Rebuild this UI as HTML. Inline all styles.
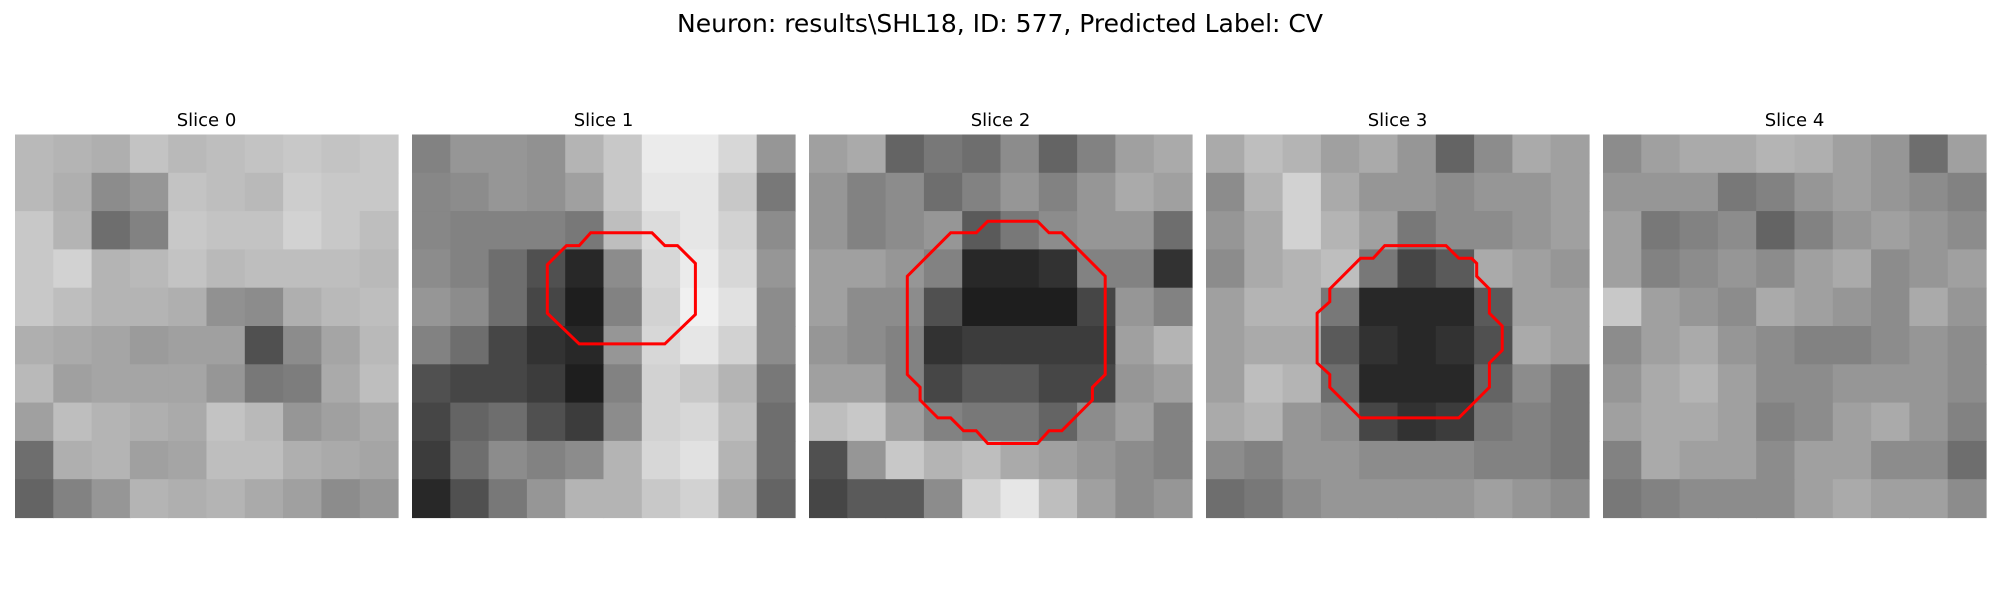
<!DOCTYPE html>
<html><head><meta charset="utf-8"><style>
html,body{margin:0;padding:0;background:#fff;width:2000px;height:600px;overflow:hidden}
svg{display:block}
text{font-family:"DejaVu Sans","Liberation Sans",sans-serif;fill:#000}
</style></head><body>
<svg id="fig" width="2000" height="600" viewBox="0 0 2000 600">
<text x="1000" y="32" font-size="25" text-anchor="middle">Neuron: results\SHL18, ID: 577, Predicted Label: CV</text>
</svg>
<script>
const sliceLabels = ["Slice 0","Slice 1","Slice 2","Slice 3","Slice 4"];
const slice0 = [
[185,180,175,195,185,190,195,200,195,200],
[185,175,140,150,195,190,185,205,200,200],
[200,180,110,130,200,195,195,210,200,190],
[200,210,180,185,195,185,190,190,190,185],
[200,190,180,180,175,145,140,175,185,190],
[175,170,165,155,160,160,80,140,165,185],
[185,160,165,165,165,150,120,125,170,190],
[160,190,180,175,170,195,185,150,160,170],
[110,175,180,160,165,190,190,175,170,165],
[100,130,150,180,175,180,170,160,140,150]];
const slice1 = [
[130,150,150,145,180,200,235,235,215,150],
[135,140,150,145,160,200,230,230,200,120],
[135,130,130,130,120,190,220,230,210,140],
[140,130,110,80,40,140,215,235,215,150],
[150,140,110,70,30,130,210,240,225,140],
[130,110,70,50,40,150,215,230,210,140],
[80,70,70,60,30,130,210,200,180,120],
[70,100,110,80,60,140,210,215,190,110],
[60,110,140,130,140,180,215,225,180,110],
[40,80,120,150,180,180,200,210,170,100]];
const slice2 = [
[160,170,100,120,110,140,100,130,160,170],
[150,130,140,110,130,150,130,150,170,160],
[150,130,140,150,90,120,140,150,150,110],
[160,160,150,130,40,40,50,130,130,50],
[160,140,140,80,30,30,30,70,150,130],
[150,140,130,50,60,60,60,60,160,180],
[160,160,130,70,90,90,70,70,150,160],
[190,200,160,130,120,120,100,140,160,130],
[80,150,200,180,190,170,160,150,140,130],
[70,90,90,140,210,230,190,160,140,150]];
const slice3 = [
[170,190,180,160,170,150,100,140,170,160],
[140,180,210,170,150,150,140,150,150,160],
[150,170,210,180,160,120,140,140,150,160],
[140,170,180,190,120,70,90,170,160,150],
[160,180,180,120,40,40,40,90,160,160],
[160,170,170,90,50,40,50,80,170,160],
[160,190,180,110,40,40,40,100,140,120],
[170,180,150,140,70,50,60,120,130,120],
[140,130,150,150,140,140,140,130,130,120],
[110,120,140,150,150,150,150,160,150,140]];
const slice4 = [
[140,160,170,170,180,175,160,150,110,160],
[150,150,150,120,130,150,160,150,140,130],
[160,120,130,140,100,130,150,160,150,140],
[160,130,140,150,140,160,170,140,150,160],
[200,160,150,140,170,160,150,140,170,150],
[140,160,170,150,140,130,130,140,150,140],
[150,170,180,160,140,140,150,150,150,140],
[160,170,170,160,130,140,160,170,150,130],
[130,170,160,160,140,160,160,140,140,110],
[120,130,140,140,140,160,170,160,160,140]];
const contour1 = [[14.0,7.7],[18.8,7.7],[19.8,8.7],[20.8,8.7],[22.2,10.1],[22.2,14.1],[19.8,16.4],[13.1,16.4],[10.6,14.0],[10.6,10.2],[12.1,8.7],[13.1,8.7]];
const contour2 = [[14.0,6.8],[17.9,6.8],[18.8,7.7],[19.8,7.7],[23.2,11.1],[23.2,18.8],[22.2,19.8],[22.2,20.8],[19.8,23.2],[18.8,23.2],[17.9,24.2],[14.0,24.2],[13.1,23.2],[12.1,23.2],[11.1,22.2],[10.1,22.2],[8.7,20.8],[8.7,19.8],[7.7,18.8],[7.7,11.1],[11.1,7.7],[13.1,7.7]];
const contour3 = [[14.0,8.7],[18.8,8.7],[19.8,9.7],[20.8,9.7],[21.2,10.1],[21.2,11.1],[22.2,12.1],[22.2,14.0],[23.2,15.0],[23.2,16.9],[22.2,17.9],[22.2,19.8],[19.8,22.2],[12.1,22.2],[9.7,19.8],[9.7,18.8],[8.7,17.9],[8.7,14.0],[9.7,13.1],[9.7,12.1],[12.1,9.7],[13.1,9.7]];

const slices = [slice0, slice1, slice2, slice3, slice4];
const contours = [null, contour1, contour2, contour3, null];
const NS = "http://www.w3.org/2000/svg";
const svg = document.getElementById('fig');
const panelX0 = 15, panelStep = 397, panelY = 134.5, panelSize = 383, pixN = 30;
function px(i, x){ return panelX0 + i*panelStep + x/pixN*panelSize; }
function py(y){ return panelY + y/pixN*panelSize; }

slices.forEach((grid, i) => {
  const g = document.createElementNS(NS, 'g');
  
  
  svg.appendChild(g);
  const n = grid.length;
  const cw = panelSize / n;
  grid.forEach((row, r) => row.forEach((v, c) => {
    const rect = document.createElementNS(NS, 'rect');
    rect.setAttribute('x', (px(i,0) + c*cw).toFixed(2));
    rect.setAttribute('y', (panelY + r*cw).toFixed(2));
    rect.setAttribute('width', (cw+0.6).toFixed(2));
    rect.setAttribute('height', (cw+0.6).toFixed(2));
    rect.setAttribute('fill', `rgb(${v},${v},${v})`);
    
    
    g.appendChild(rect);
  }));
  const t = document.createElementNS(NS, 'text');
  t.setAttribute('x', (px(i,0) + panelSize/2).toFixed(1));
  t.setAttribute('y', '126');
  t.setAttribute('font-size', '18');
  t.setAttribute('text-anchor', 'middle');
  t.textContent = sliceLabels[i];
  
  
  svg.appendChild(t);
  const ct = contours[i];
  if (ct) {
    const poly = document.createElementNS(NS, 'polygon');
    poly.setAttribute('points', ct.map(p => px(i,p[0]).toFixed(1) + ',' + py(p[1]).toFixed(1)).join(' '));
    poly.setAttribute('fill', 'none');
    poly.setAttribute('stroke', '#ff0000');
    poly.setAttribute('stroke-width', '3');
    poly.setAttribute('stroke-linejoin', 'miter');
    
    
    svg.appendChild(poly);
  }
});
</script>
</body></html>
